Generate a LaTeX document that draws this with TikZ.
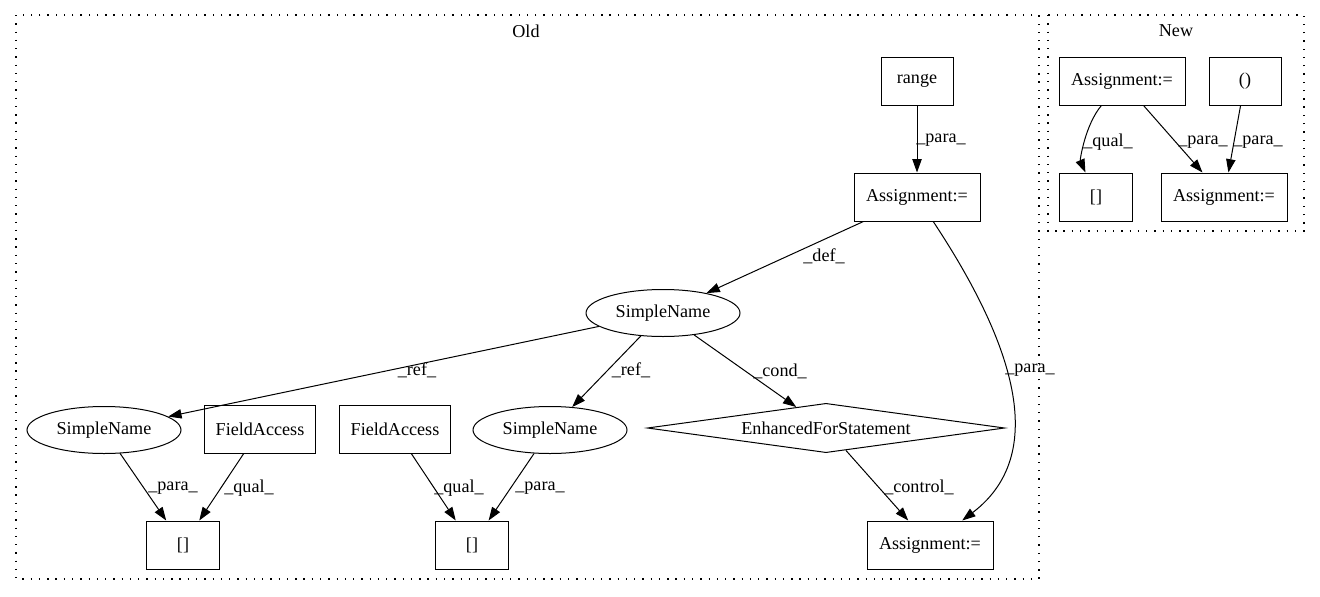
\documentclass[tikz,border=0pt]{standalone}
\usepackage{fontspec}
\setmainfont{Liberation Serif}
\usepackage{tikz}
\usetikzlibrary{shapes.geometric, arrows.meta}

\begin{document}
\begin{tikzpicture}[
            x=0.75pt, y=-0.75pt, % one unit is one pixel of the layout
            every node/.style={font=\fontsize{13.6}{16}\selectfont},
            box/.style={rectangle, draw, line width=0.75pt, inner sep=0pt, minimum height=36pt}, % plain statement box
            oval/.style={ellipse, draw, line width=0.75pt, inner sep=0pt, minimum width=115.5pt, minimum height=35.25pt}, % names
            loop/.style={diamond, draw, line width=0.75pt, inner sep=0pt, aspect=7.2, minimum width=268pt, minimum height=37pt},
            arr/.style={-{Triangle[length=10pt, width=7pt]}, line width=0.75pt}, % edges
            lbl/.style={inner sep=0pt}, % edge labels
            cluster/.style={line width=0.8pt, dash pattern=on 1pt off 5.2pt} % dotted frames
            ]

                \useasboundingbox (0,0) rectangle (1320,596);

                % the two frames
                \draw[cluster] (16,15) rectangle (1039,579);
                \draw[cluster] (1048,15) rectangle (1304,231);
                \node[lbl] (tOld) at (526,31) {Old};
                \node[lbl] (tNew) at (1176,31) {New};

                % old side
                \node[box, minimum width=54pt] (range) at (917,81) {range};
                \node[box, minimum width=94.5pt] (asgTop) at (917,197) {Assignment:=};
                \node[oval] (snTop) at (663,313) {SimpleName};
                \node[oval] (snLeft) at (104,430) {SimpleName};
                \node[box, minimum width=83pt] (faLeft) at (260,429) {FieldAccess};
                \node[box, minimum width=83pt] (faMid) at (395,429) {FieldAccess};
                \node[oval] (snMid) at (550,430) {SimpleName};
                \node[loop] (efs) at (826,428) {EnhancedForStatement};
                \node[box, minimum width=55pt] (arrLeft) at (183,545) {[]};
                \node[box, minimum width=55pt] (arrMid) at (472,545) {[]};
                \node[box, minimum width=94.5pt] (asgBot) at (930,545) {Assignment:=};

                \draw[arr] (range) -- (asgTop);
                \draw[arr] (asgTop) -- (snTop);
                \draw[arr] (asgTop) .. controls (1005,330) and (1055,450) .. (asgBot);
                \draw[arr] (snTop) -- (snLeft);
                \draw[arr] (snTop) -- (snMid);
                \draw[arr] (snTop) -- (efs);
                \draw[arr] (efs) -- (asgBot);
                \draw[arr] (snLeft) -- (arrLeft);
                \draw[arr] (faLeft) -- (arrLeft);
                \draw[arr] (faMid) -- (arrMid);
                \draw[arr] (snMid) -- (arrMid);

                \node[lbl] (lRange) at (941,140) {\_para\_};
                \node[lbl] (lDef) at (824,256) {\_def\_};
                \node[lbl] (lCurve) at (1030,370) {\_para\_};
                \node[lbl] (lRefL) at (417,370) {\_ref\_};
                \node[lbl] (lRefM) at (631,370) {\_ref\_};
                \node[lbl] (lCond) at (780,371) {\_cond\_};
                \node[lbl] (lCtrl) at (919,487) {\_control\_};
                \node[lbl] (lParaL) at (173,488) {\_para\_};
                \node[lbl] (lQualL) at (249,488) {\_qual\_};
                \node[lbl] (lQualM) at (459,488) {\_qual\_};
                \node[lbl] (lParaM) at (540,488) {\_para\_};

                % new side
                \node[box, minimum width=94.5pt] (asgNew) at (1122,81) {Assignment:=};
                \node[box, minimum width=54pt] (paren) at (1245,81) {()};
                \node[box, minimum width=55pt] (arrNew) at (1096,197) {[]};
                \node[box, minimum width=94.5pt] (asgNew2) at (1224,197) {Assignment:=};

                \draw[arr] (asgNew) .. controls (1085,125) and (1080,160) .. (arrNew);
                \draw[arr] (asgNew) -- (asgNew2);
                \draw[arr] (paren) -- (asgNew2);

                \node[lbl] (lQualN) at (1108,142) {\_qual\_};
                \node[lbl] (lParaN) at (1203,142) {\_para\_};
                \node[lbl] (lParaN2) at (1258,142) {\_para\_};

            \end{tikzpicture}
\end{document}
